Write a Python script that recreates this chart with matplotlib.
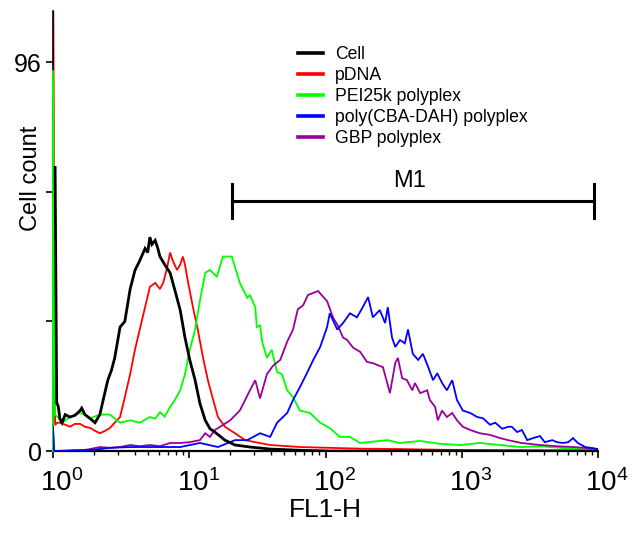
import numpy as np
import matplotlib
matplotlib.use("Agg")
import matplotlib.pyplot as plt
import matplotlib.transforms as mtransforms
from matplotlib.ticker import FixedLocator, LogLocator, NullFormatter

plt.rcParams['font.family'] = ['Liberation Sans', 'DejaVu Sans']
plt.rcParams['mathtext.fontset'] = 'custom'
plt.rcParams['mathtext.rm'] = 'Liberation Sans'
plt.rcParams['mathtext.it'] = 'Liberation Sans:italic'
plt.rcParams['mathtext.bf'] = 'Liberation Sans:bold'

# Histogramme lette a occhio (canale 0..1023 su 4 decadi, conteggio)
cell_ch = [4, 7, 10, 13, 17, 23, 32, 41, 51, 54, 60, 66, 70, 79, 88, 95, 103, 110,
           116, 126, 135, 140, 145, 154, 163, 173, 178, 182, 186, 192, 197, 201,
           210, 220, 229, 239, 248, 257, 267, 276, 286, 295, 304, 323, 342, 370,
           408, 464, 520, 1023]
cell_n = [70, 12, 11, 8, 7, 9, 8.4, 8.8, 10, 10.6, 9, 8.4, 8, 7, 9, 13, 17.5, 20,
          23, 30.6, 32, 36, 40, 44.6, 47, 50, 49, 52.8, 51, 52, 50, 48,
          46, 44, 39.7, 34.8, 28, 22.5, 17.5, 11.8, 7.6, 5.5, 4.7, 2.7, 1.5, 1,
          0.5, 0.2, 0, 0]

pdna_ch = [0, 4, 8, 13, 23, 32, 41, 51, 60, 70, 79, 88, 98, 107, 116, 126, 135,
           145, 154, 163, 173, 182, 192, 201, 207, 214, 220, 225, 233, 239, 244,
           248, 254, 263, 272, 282, 291, 301, 310, 323, 342, 361, 380, 408, 464,
           520, 577, 652, 740, 840, 1023]
pdna_n = [130, 6.4, 7, 7, 6.5, 6, 6.7, 6.7, 6, 5.7, 5, 4.4, 5, 5.7, 7, 8.4, 13.3,
          19, 25, 30, 35.5, 40.5, 41.5, 40, 41.5, 45, 49, 47, 44.7, 46, 48,
          46, 41.5, 35.5, 30, 23, 17.5, 12.6, 8.4, 6, 4.4, 2.7, 2.2, 1.5, 1,
          0.8, 0.6, 0.5, 0.3, 0.2, 0.1]

pei_ch = [0, 0, 4, 8, 17, 32, 51, 60, 70, 88, 107, 126, 145, 163, 182, 192, 201, 210,
          220, 229, 239, 248, 257, 267, 276, 286, 295, 308, 319, 336, 351, 365,
          370, 380, 383, 389, 393, 402, 411, 421, 430, 440, 451, 464, 483, 502,
          520, 539, 558, 577, 628, 652, 690, 727, 765, 802, 840, 878, 915, 953,
          990, 1023]
pei_n = [0, 94, 9, 8.5, 7, 8.4, 9.4, 9, 8.1, 9, 9, 7, 7.6, 7, 8.4, 8, 9.6, 8.5,
         10.9, 12.6, 15, 19, 25, 30, 37, 44, 44.7, 43, 48, 48, 41.5, 37.8,
         38.5, 35.5, 30.6, 31, 27, 23, 25, 19.5, 19, 15, 13.3, 10, 9.4, 7,
         5.7, 3.5, 3.5, 2, 2.7, 2, 2.5, 1.8, 1.5, 2, 1.5, 1, 1.2, 0.8,
         0.5, 0.3]

cba_ch = [0, 2, 60, 88, 107, 145, 182, 239, 276, 310, 342, 365, 389, 408, 421,
          440, 451, 464, 477, 489, 502, 515, 520, 534, 545, 558, 571, 582, 592,
          601, 614, 624, 629, 637, 643, 652, 661, 667, 676, 686, 695, 705, 714,
          722, 731, 740, 750, 759, 770, 784, 797, 808, 821, 831, 844, 855, 862,
          872, 881, 891, 902, 915, 924, 938, 947, 958, 968, 977, 986, 1000,
          1015, 1023]
cba_n = [6, 0, 0.2, 0.5, 0.8, 1, 1, 1, 2, 1, 2.7, 2.7, 4.4, 3.5, 7,
         9.4, 12.6, 15.8, 19.2, 22.5, 25.7, 30.6, 34, 30, 31.6, 34, 33, 35.5, 38,
         33, 34.8, 31.6, 35.5, 28, 25.7, 27.4, 26.6, 30, 24, 22.5, 24, 20.7, 17.5,
         19.2, 16.8, 15, 17.5, 12.6, 10, 9.4, 8.4, 8.1, 6.5, 7, 5.5, 6, 6,
         4.7, 5.2, 2.7, 3.2, 3.7, 2.2, 2.7, 2.2, 2, 2.2, 3.2, 2, 1,
         0.7, 0.5]

gbp_ch = [0, 2, 60, 70, 88, 107, 126, 145, 163, 182, 201, 220, 239, 257, 276,
          286, 295, 304, 314, 333, 351, 361, 370, 380, 389, 402, 413, 427, 440,
          451, 460, 470, 479, 498, 508, 515, 526, 535, 545, 552, 564, 577, 590,
          601, 620, 633, 643, 648, 656, 665, 675, 680, 690, 703, 708, 718, 723,
          731, 740, 750, 759, 770, 784, 802, 821, 840, 855, 880, 915, 947, 977,
          1009, 1023]
gbp_n = [6, 0, 0.3, 0.5, 1, 0.8, 1, 1.5, 1.2, 1.5, 1.2, 2, 2, 2.2, 2.7,
         4.4, 3.5, 5.2, 6, 7.6, 10, 12.6, 15, 17.5, 13, 19, 21, 22.5, 27,
         30, 35, 36, 38.5, 39.5, 38, 37, 33, 31, 28, 27.5, 25.5, 24.5, 22,
         21.7, 20.7, 14.3, 21.7, 23, 18, 17.5, 15, 16.8, 14.3, 15, 12.6, 10.9, 7.6,
         10, 8.4, 9.4, 7.6, 6, 5.2, 4.4, 4, 3.2, 2.7, 2, 1.5, 1.2, 1,
         0.7, 0.5]

series_labels = ["Cell", "pDNA", "PEI25k polyplex", "poly(CBA-DAH) polyplex", "GBP polyplex"]
series_colors = ["#000000", "#ff0000", "#00ff00", "#0000ff", "#990099"]

xtick_vals = [1, 10, 100, 1000, 10000]
xtick_labels = [r"$10^{0}$", r"$10^{1}$", r"$10^{2}$", r"$10^{3}$", r"$10^{4}$"]
ytick_vals = [0, 32, 64, 96]
ytick_labels = ["0", "", "", "96"]

m1_start, m1_end, m1_level = 20.5, 9400, 61.7

def ch2fl(ch):
    return 10 ** (np.asarray(ch) / 256.0)

fig = plt.figure(figsize=(6.36, 5.37), dpi=100)
ax = fig.add_axes([0.0833, 0.160, 0.857, 0.8195])

data = [(cell_ch, cell_n), (pdna_ch, pdna_n), (pei_ch, pei_n),
        (cba_ch, cba_n), (gbp_ch, gbp_n)]
widths = [2.0, 1.3, 1.3, 1.3, 1.3]
zs = [6, 2, 3, 5, 4]  # rosso sotto il verde (picco sul bordo)
for i, (ch, n) in enumerate(data):
    ln, = ax.plot(ch2fl(ch), n, color=series_colors[i], lw=widths[i], zorder=zs[i],
                  label=series_labels[i], solid_joinstyle="miter")
    if i == 2:
        # il picco verde copre l'asse sinistro, come nell'originale
        ln.set_clip_on(False)

ax.set_xscale("log")
ax.set_xlim(1, 10000)
ax.set_ylim(0, 108.6)

ax.xaxis.set_major_locator(FixedLocator(xtick_vals))
ax.set_xticklabels(xtick_labels)
ax.xaxis.set_minor_locator(LogLocator(base=10, subs=np.arange(2, 10)))
ax.xaxis.set_minor_formatter(NullFormatter())
ax.set_yticks(ytick_vals)
ax.set_yticklabels(ytick_labels)

ax.tick_params(axis="x", which="major", labelsize=20, length=5, width=1.2, pad=8)
ax.tick_params(axis="x", which="minor", length=3, width=1)
ax.tick_params(axis="y", labelsize=18, length=5, width=1.2, pad=3)

# etichette x spostate un po' a destra come nell'originale
shift = mtransforms.ScaledTranslation(9 / 100, 0, fig.dpi_scale_trans)
for lab in ax.get_xticklabels():
    lab.set_transform(lab.get_transform() + shift)

for s in ["top", "right"]:
    ax.spines[s].set_visible(False)
ax.spines["bottom"].set_linewidth(1.6)
ax.spines["left"].set_linewidth(1.2)

ax.set_xlabel("FL1-H", fontsize=19, labelpad=1)
ax.set_ylabel("Cell count", fontsize=17)
ax.yaxis.set_label_coords(-0.02, 0.62)

# Marcatore M1
ax.plot([m1_start, m1_end], [m1_level, m1_level], color="black", lw=2.2, zorder=7)
for xv in (m1_start, m1_end):
    ax.plot([xv, xv], [m1_level - 4.2, m1_level + 4.2], color="black", lw=2.2, zorder=7)
ax.text(417, 66.6, "M1", fontsize=17, ha="center", va="center")

leg = ax.legend(loc="upper left", bbox_to_anchor=(0.437, 0.936), frameon=False,
                fontsize=12.7, handlelength=1.42, handletextpad=0.68,
                labelspacing=0.22, borderaxespad=0)
for h in leg.get_lines():
    h.set_linewidth(2.6)

fig.savefig("out.png", dpi=100)
